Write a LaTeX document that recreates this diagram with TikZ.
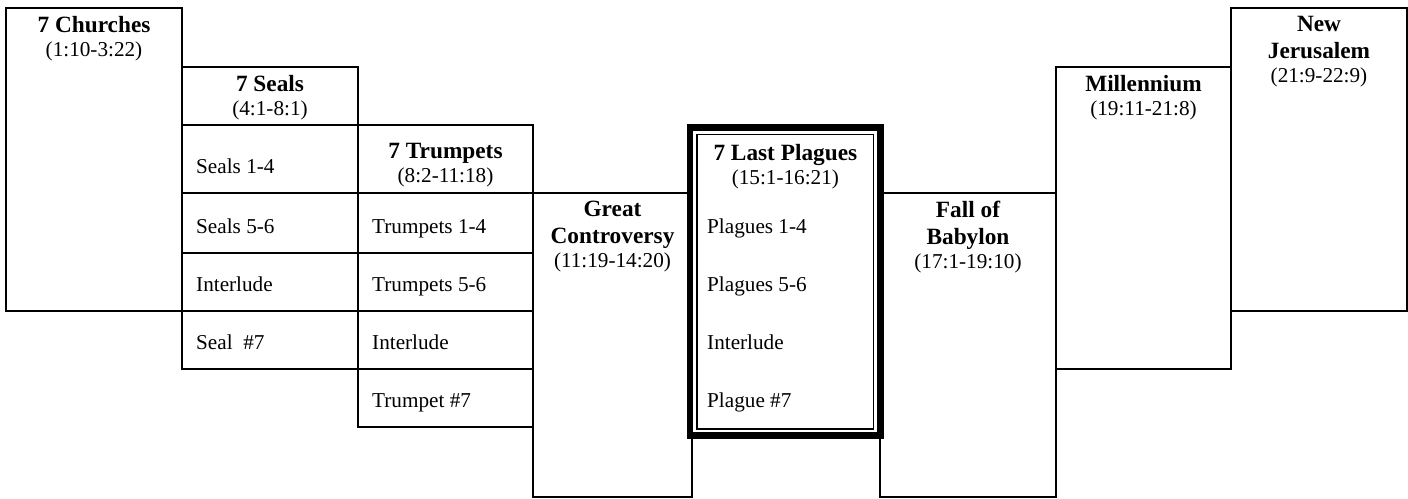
\documentclass[tikz,border=0pt]{standalone}
\usepackage{fontspec}
\setmainfont{Liberation Serif}
\usetikzlibrary{positioning}
\tikzset{
  pane/.style={
    draw, line width=1.4pt,
    inner sep=0pt, outer sep=0pt,
    anchor=north west
  },
  headtext/.style={
    anchor=north, inner sep=0pt,
    align=center,
    yshift=-7.7pt,
    font=\fontsize{21.2}{24}\selectfont
  },
  rowtext/.style={
    anchor=base west, inner sep=0pt,
    xshift=14pt, yshift=20pt,
    font=\fontsize{21.2}{24}\selectfont
  }
}
\newcommand{\ttl}[1]{{\fontsize{23.3}{27}\selectfont\bfseries #1}}

\begin{document}
\begin{tikzpicture}[x=1pt, y=-1pt, node distance=0pt]
  \useasboundingbox (0,0) rectangle (1408,498);

  % columns
  \node[pane, minimum width=176pt, minimum height=303pt] (churches) at (6,8) {};
  \node[pane, minimum width=176pt, minimum height=58pt] (seals) at (182,67) {};
  \node[pane, minimum width=176pt, minimum height=68pt, below=of seals] (s1) {};
  \node[pane, minimum width=176pt, minimum height=60pt, below=of s1] (s2) {};
  \node[pane, minimum width=176pt, minimum height=58pt, below=of s2] (s3) {};
  \node[pane, minimum width=176pt, minimum height=58pt, below=of s3] (s4) {};
  \node[pane, minimum width=175pt, minimum height=68pt] (trumpets) at (358,125) {};
  \node[pane, minimum width=175pt, minimum height=60pt, below=of trumpets] (t1) {};
  \node[pane, minimum width=175pt, minimum height=58pt, below=of t1] (t2) {};
  \node[pane, minimum width=175pt, minimum height=58pt, below=of t2] (t3) {};
  \node[pane, minimum width=175pt, minimum height=58pt, below=of t3] (t4) {};
  \node[pane, minimum width=159pt, minimum height=304pt] (gc) at (533,193) {};
  \node[pane, minimum width=176pt, minimum height=304pt] (fall) at (880,193) {};
  \node[pane, minimum width=175pt, minimum height=302pt] (mill) at (1056,67) {};
  \node[pane, minimum width=176pt, minimum height=303pt] (newjer) at (1231,8) {};

  % double frame round the plagues
  \node[pane, line width=6.7pt, minimum width=190.7pt, minimum height=307.8pt] (plagues) at (690,127.7) {};
  \node[pane, line width=1.2pt, minimum width=176.5pt, minimum height=294.5pt,
        below right=6.8pt and 7pt of plagues.north west] (pin) {};

  % headings
  \node[headtext] (churchesT) at (churches.north) {\ttl{7 Churches}\\(1:10-3:22)};
  \node[headtext] (sealsT) at (seals.north) {\ttl{7 Seals}\\(4:1-8:1)};
  \node[headtext, yshift=-10.6pt] (trumpetsT) at (trumpets.north) {\ttl{7 Trumpets}\\(8:2-11:18)};
  \node[headtext] (gcT) at (gc.north) {\ttl{Great}\\[3.5pt]\ttl{Controversy}\\(11:19-14:20)};
  \node[headtext, yshift=-8.6pt] (plaguesT) at (plagues.north) {\ttl{7 Last Plagues}\\(15:1-16:21)};
  \node[headtext] (fallT) at (fall.north) {\ttl{Fall of}\\[3.5pt]\ttl{Babylon}\\(17:1-19:10)};
  \node[headtext] (millT) at (mill.north) {\ttl{Millennium}\\(19:11-21:8)};
  \node[headtext] (newjerT) at (newjer.north) {\ttl{New}\\[3.5pt]\ttl{Jerusalem}\\(21:9-22:9)};

  % rows
  \node[rowtext] (s1T) at (s1.south west) {Seals 1-4};
  \node[rowtext] (s2T) at (s2.south west) {Seals 5-6};
  \node[rowtext] (s3T) at (s3.south west) {Interlude};
  \node[rowtext] (s4T) at (s4.south west) {Seal\ \ \#7};
  \node[rowtext] (t1T) at (t1.south west) {Trumpets 1-4};
  \node[rowtext] (t2T) at (t2.south west) {Trumpets 5-6};
  \node[rowtext] (t3T) at (t3.south west) {Interlude};
  \node[rowtext] (t4T) at (t4.south west) {Trumpet \#7};
  \node[rowtext, xshift=-4pt] (p1T) at (t1.south west -| pin.west) {Plagues 1-4};
  \node[rowtext, xshift=-4pt] (p2T) at (t2.south west -| pin.west) {Plagues 5-6};
  \node[rowtext, xshift=-4pt] (p3T) at (t3.south west -| pin.west) {Interlude};
  \node[rowtext, xshift=-4pt] (p4T) at (t4.south west -| pin.west) {Plague \#7};
\end{tikzpicture}
\end{document}
